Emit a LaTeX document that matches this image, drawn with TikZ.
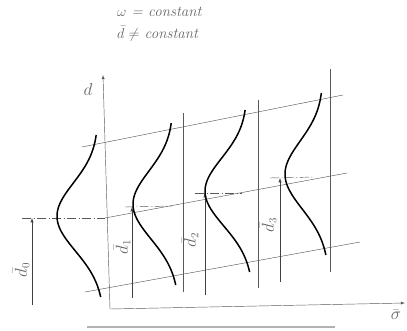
\documentclass[tikz,border=0pt]{standalone}
\usepackage{amssymb}
\usepackage{tikz}
\usetikzlibrary{arrows}

\begin{document}
\begin{tikzpicture}[x=1pt,y=-1pt,
		thinline/.style={line width=0.45pt, color=black!65},
		curve/.style={line width=1.5pt, color=black},
		meanline/.style={line width=0.45pt, color=black!65, dash pattern=on 9pt off 2.5pt on 1pt off 2.5pt},
		lbl/.style={color=black!60, font=\fontsize{16}{18}\selectfont},
		level/.style={line width=0.5pt, color=black!75, -latex},
	]
		\useasboundingbox (0,0) rectangle (407,330);
		% header
		\node[lbl, anchor=west, inner sep=0pt, font=\fontsize{15}{17}\selectfont\itshape] (wconst) at (117,12) {$\omega$ = constant};
		\node[lbl, anchor=west, inner sep=0pt, font=\fontsize{15}{17}\selectfont\itshape] (dconst) at (117,34) {$\bar d \neq$ constant};
		% axes
		\coordinate (o) at (110,309);
		\coordinate (dtop) at (103,75);
		\coordinate (sright) at (405,303);
		\draw[thinline, latex-latex] (dtop) -- (o) -- (sright);
		\node[lbl] (dlab) at (88,89) {$d$};
		\node[lbl] (slab) at (396,315) {$\bar\sigma$};
		% band lines
		\draw[thinline] (82,147) -- (343,95);
		\draw[thinline] (85,292) -- (360,242);
		\draw[thinline] (105,218) -- (347,173);
		\draw[meanline] (22,218) -- (105,218);
		\draw[meanline] (125,207) -- (172,206);
		\draw[meanline] (195,193) -- (242,193);
		\draw[meanline] (270,178) -- (315,177);
		% verticals
		\draw[thinline] (183,113) -- (183,292);
		\draw[thinline] (258,100) -- (258,288);
		\draw[thinline] (330,69) -- (330,272);
		% mean levels
		\draw[level] (32,305) -- (32,218);
		\draw[level] (132,298) -- (132,207);
		\draw[level] (205,295) -- (205,193);
		\draw[level] (280,282) -- (280,178);
		\node[lbl, rotate=90] (dzero) at (21,270) {$\bar d_0$};
		\node[lbl, rotate=90] (done) at (122,247) {$\bar d_1$};
		\node[lbl, rotate=90] (dtwo) at (190,240) {$\bar d_2$};
		\node[lbl, rotate=90] (dthree) at (268,225) {$\bar d_3$};
		% distributions
		\foreach \bx/\my/\amp in {101/217/44, 176/205/43, 250/192/45, 326/175/41}
			\draw[curve] plot[variable=\t, domain=-82:80, samples=60, smooth]
				({\bx+0.03*(\t)-\amp*exp(-((\t)/48)*((\t)/48))}, {\my+\t});
		% edge of next figure
		\draw[line width=2pt, color=black!30] (87,327) -- (335,327);
	\end{tikzpicture}
\end{document}
